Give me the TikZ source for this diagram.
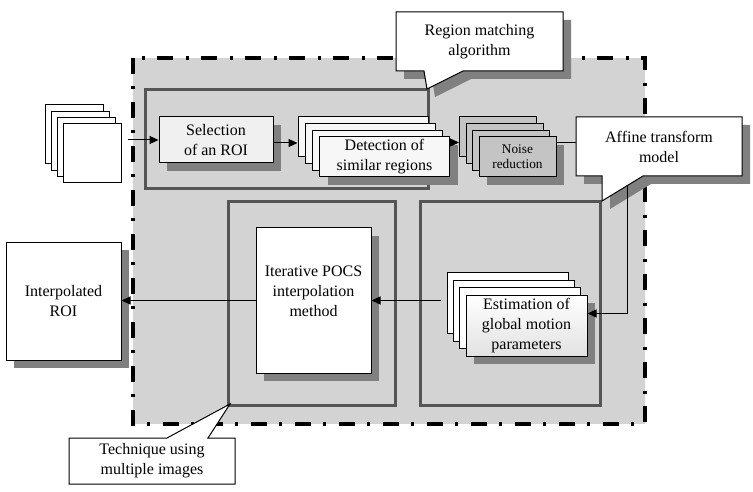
\documentclass[tikz,border=0pt]{standalone}
\usepackage{fontspec}
\setmainfont{Liberation Serif}
\usetikzlibrary{arrows.meta,shadows}
\definecolor{bggray}{HTML}{D3D3D3}
\definecolor{grpgray}{HTML}{555555}
\definecolor{shgray}{HTML}{808080}
\definecolor{noisegray}{HTML}{C4C4C4}
\definecolor{selfill}{HTML}{F0F0F0}
\definecolor{detfill}{HTML}{F7F7F7}
\definecolor{estbot}{HTML}{E2E2E2}
\tikzset{
  card/.style={draw=black, line width=1pt, inner sep=0pt, align=center,
    font=\fontsize{16}{20}\selectfont},
  shad/.style={drop shadow={shadow xshift=8pt, shadow yshift=-8pt, fill=shgray, opacity=1}},
  arr/.style={line width=1pt, -{Triangle[length=9pt,width=8pt]}},
  conn/.style={line width=1pt},
  grp/.style={draw=grpgray, line width=3pt},
  callout/.style={draw=black, line width=1pt, fill=white},
  ctext/.style={inner sep=0pt, align=center, font=\fontsize{16}{20}\selectfont},
  noisecard/.style={card, fill=noisegray, minimum width=77pt, minimum height=40pt,
    font=\fontsize{13.3}{15}\selectfont},
  detcard/.style={card, fill=detfill, minimum width=130pt, minimum height=40pt},
  estcard/.style={card, top color=white, bottom color=estbot, minimum width=121pt, minimum height=61pt},
  incard/.style={card, fill=white, minimum width=58pt, minimum height=59pt},
}
\begin{document}
\begin{tikzpicture}[x=1pt,y=-1pt]
\useasboundingbox (0,0) rectangle (753,492);
% background region
\fill[bggray] (133,58) rectangle (645,424);
\draw[line width=3.5pt, dash pattern=on 16pt off 12pt on 3pt off 13pt] (133,58) rectangle (645,424);
% group boxes
\draw[grp] (145,90) rectangle (428,189);
\draw[grp] (228,202) rectangle (395,405);
\draw[grp] (420,202) rectangle (600,405);

% input stack
\node[incard] (in1) at (74,134.5) {};
\node[incard] (in2) at (80,140.8) {};
\node[incard] (in3) at (86,147.2) {};
\node[incard] (in4) at (92,153.5) {};

% selection
\node[card, shad, fill=selfill, minimum width=114pt, minimum height=46pt] (sel) at (216,140) {Selection\\of an ROI};

% detection stack
\node[detcard] (det1) at (363,137) {};
\node[detcard] (det2) at (370,143.7) {};
\node[detcard] (det3) at (377.5,150.3) {};
\node[detcard, shad] (det4) at (384.5,157) {Detection of\\similar regions};

% noise stack
\node[noisecard] (noise1) at (498,137) {};
\node[noisecard] (noise2) at (504.5,143.7) {};
\node[noisecard] (noise3) at (511,150.3) {};
\node[noisecard, shad] (noise4) at (517.5,157) {Noise\\reduction};

% estimation stack
\node[estcard, top color=white, bottom color=white] (est1) at (507.5,303) {};
\node[estcard, top color=white, bottom color=white] (est2) at (513.8,310.5) {};
\node[estcard, top color=white, bottom color=white] (est3) at (520.2,318) {};
\node[estcard, shad] (est4) at (526.5,325.5) {Estimation of\\global motion\\parameters};

% POCS
\node[card, shad, fill=white, minimum width=115pt, minimum height=145pt,
  label={[ctext, yshift=9.5pt]center:Iterative POCS\\interpolation\\method}] (pocs) at (313.5,300.5) {};

% Interpolated ROI
\node[card, shad, fill=white, minimum width=115pt, minimum height=118pt] (interp) at (63.5,301) {Interpolated\\ROI};

% connectors
\draw[arr, shorten <=6pt] (in4.east |- sel.west) -- (sel.west);
\draw[arr] ([yshift=-3pt]sel.east) -- ([yshift=-3pt]sel.east -| det1.west);
\draw[arr] ([yshift=-6pt]det4.north east) -- ([yshift=-6pt]det4.north east -| noise1.west);
\coordinate (estin) at ([xshift=-6pt]est1.west);
\draw[arr] (estin |- pocs.east) -- (pocs.east);
\draw[arr] (pocs.west) -- (pocs.west -| interp.east);

% Region matching callout
\fill[shgray] (404,20) -- (571,20) -- (571,79) -- (471,79) -- (435,97) -- (432,79) -- (404,79) -- cycle;
\draw[callout] (396,12) -- (563,12) -- (563,71) -- (463,71) -- (427,89) -- (424,71) -- (396,71) -- cycle;
\node[ctext, minimum width=167pt, minimum height=59pt] (rm) at (479.5,41.5) {Region matching\\algorithm};

% Affine transform callout
\fill[shgray] (584,125) -- (750,125) -- (750,184) -- (651,184) -- (610,209) -- (610,184) -- (584,184) -- cycle;
\coordinate (affout) at (627,178);
\draw[arr] (affout) |- ([yshift=-19pt]est4.north east);
\draw[callout] (576,117) -- (742,117) -- (742,176) -- (643,176) -- (602,201) -- (602,176) -- (576,176) -- cycle;
\node[ctext, minimum width=166pt, minimum height=59pt] (aff) at (659,146.5) {Affine transform\\model};
\draw[conn] ([yshift=-6pt]noise4.north east) -- ([yshift=-6pt]noise4.north east -| aff.west);

% Technique callout
\draw[callout] (69,438) -- (167,438) -- (230,404) -- (208,438) -- (235,438) -- (235,484) -- (69,484) -- cycle;
\node[ctext, minimum width=166pt, minimum height=46pt] (tech) at (152,461) {Technique using\\multiple images};
\end{tikzpicture}
\end{document}
